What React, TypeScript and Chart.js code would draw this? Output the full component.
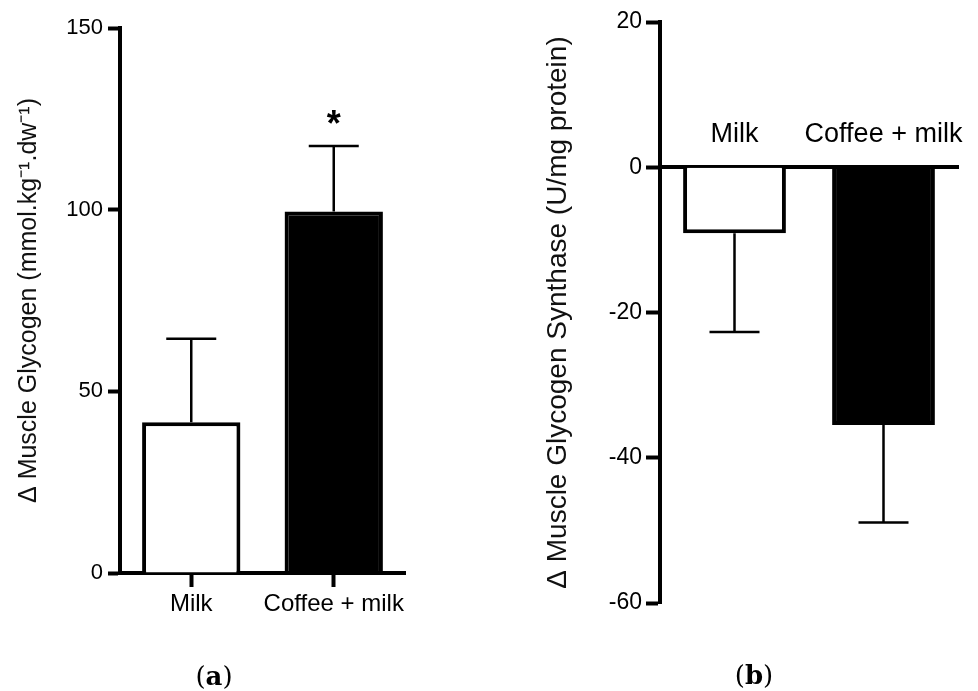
import React, { useEffect, useRef } from "react";
import { Chart, registerables } from "chart.js";

Chart.register(...registerables);

// ---------- data ----------
const categories = ["Milk", "Coffee + milk"];

const glycogenMeans = [41.5, 99.5];
const glycogenSEM = [23, 18];
const glycogenMarks = ["", "*"];
const glycogenTicks = [0, 50, 100, 150];
const glycogenTitle = "Δ Muscle Glycogen (mmol.kg⁻¹.dw⁻¹)";

const synthaseMeans = [-9.1, -35.5];
const synthaseSEM = [13.6, 13.4];
const synthaseMarks = ["", ""];
const synthaseTicks = [-60, -40, -20, 0, 20];
const synthaseTitle = "Δ Muscle Glycogen Synthase (U/mg protein)";

const barFills = ["#ffffff", "#000000"];
const panelCaptions = ["a", "b"];

const FONT = "'Liberation Sans', Arial, Helvetica, sans-serif";

// ---------- error bar plugin ----------
const errorBarPlugin = {
  id: "errorBars",
  afterDatasetsDraw(chart: any, _args: any, opts: any) {
    const { ctx } = chart;
    const yScale = chart.scales.y;
    const meta = chart.getDatasetMeta(0);
    const ds: any = chart.data.datasets[0];
    ctx.save();
    ctx.strokeStyle = "#000";
    ctx.lineWidth = opts.lineWidth ?? 2.5;
    meta.data.forEach((bar: any, i: number) => {
      const v = ds.data[i];
      const e = ds.errors[i];
      const end = v >= 0 ? v + e : v - e;
      const y0 = yScale.getPixelForValue(v);
      const y1 = yScale.getPixelForValue(end);
      const half = (opts.capWidth ?? 50) / 2;
      ctx.beginPath();
      ctx.moveTo(bar.x, y0);
      ctx.lineTo(bar.x, y1);
      ctx.moveTo(bar.x - half, y1);
      ctx.lineTo(bar.x + half, y1);
      ctx.stroke();
      const mark = ds.marks ? ds.marks[i] : "";
      if (mark) {
        ctx.fillStyle = "#000";
        ctx.font = opts.markFont;
        ctx.textAlign = "center";
        ctx.textBaseline = "alphabetic";
        const m = ctx.measureText(mark);
        const mid = (m.actualBoundingBoxAscent - m.actualBoundingBoxDescent) / 2;
        const centerY = y1 - (opts.markOffset ?? 28);
        ctx.fillText(mark, bar.x, centerY + mid);
      }
    });
    ctx.restore();
  },
};

type PanelSpec = {
  means: number[];
  errors: number[];
  marks: string[];
  ticks: number[];
  title: string;
  padding: { left: number; top: number; right: number; bottom: number };
  yWidth: number;
  yTickFont: number;
  yTickLength: number;
  yTickPadding: number;
  titleFont: number;
  titlePad: number;
  xFont: number;
  xPadding: number;
  xTicks: boolean;
};

function buildConfig(p: PanelSpec): any {
  const tMin = p.ticks[0];
  const tMax = p.ticks[p.ticks.length - 1];
  const step = p.ticks[1] - p.ticks[0];
  return {
    type: "bar",
    data: {
      labels: categories,
      datasets: [
        {
          data: p.means,
          errors: p.errors,
          marks: p.marks,
          backgroundColor: barFills,
          borderColor: "#000",
          borderWidth: 4,
          barPercentage: 0.69,
          categoryPercentage: 1,
        },
      ],
    },
    plugins: [errorBarPlugin],
    options: {
      animation: false,
      responsive: true,
      maintainAspectRatio: false,
      layout: { padding: p.padding },
      plugins: {
        legend: { display: false },
        tooltip: { enabled: false },
        errorBars: {
          lineWidth: 2.5,
          capWidth: 50,
          markFont: `bold 36px ${FONT}`,
          markOffset: 29,
        },
      },
      scales: {
        x: {
          position: { y: 0 },
          offset: true,
          grid: {
            display: p.xTicks,
            offset: false,
            drawOnChartArea: false,
            drawTicks: p.xTicks,
            tickLength: 12,
            tickWidth: 4,
            tickColor: "#000",
            color: "#000",
          },
          border: { display: true, width: 4, color: "#000" },
          ticks: {
            color: "#000",
            font: { family: FONT, size: p.xFont },
            padding: p.xPadding,
            autoSkip: false,
            maxRotation: 0,
            minRotation: 0,
          },
        },
        y: {
          position: "left",
          min: tMin,
          max: tMax,
          afterFit: (s: any) => {
            s.width = p.yWidth;
          },
          afterBuildTicks: (s: any) => {
            s.ticks = p.ticks.map((v) => ({ value: v }));
          },
          ticks: {
            stepSize: step,
            color: "#000",
            font: { family: FONT, size: p.yTickFont },
            padding: p.yTickPadding,
          },
          grid: {
            display: true,
            drawOnChartArea: false,
            drawTicks: true,
            tickLength: p.yTickLength,
            tickWidth: 4,
            tickColor: "#000",
            color: "#000",
          },
          border: { display: true, width: 4, color: "#000" },
          title: {
            display: true,
            text: p.title,
            color: "#111",
            font: { family: FONT, size: p.titleFont },
            padding: { top: p.titlePad, bottom: 0 },
          },
        },
      },
    },
  };
}

function Panel({ spec, left, width }: { spec: PanelSpec; left: number; width: number }) {
  const ref = useRef<HTMLCanvasElement | null>(null);
  useEffect(() => {
    if (!ref.current) return;
    const chart = new Chart(ref.current, buildConfig(spec));
    return () => chart.destroy();
  }, [spec]);
  return (
    <div style={{ position: "absolute", left, top: 0, width, height: 691 }}>
      <canvas ref={ref} />
    </div>
  );
}

const leftSpec: PanelSpec = {
  means: glycogenMeans,
  errors: glycogenSEM,
  marks: glycogenMarks,
  ticks: glycogenTicks,
  title: glycogenTitle,
  padding: { left: 0, top: 28, right: 75, bottom: 118 },
  yWidth: 120,
  yTickFont: 22,
  yTickLength: 12,
  yTickPadding: 5,
  titleFont: 25,
  titlePad: 14,
  xFont: 24,
  xPadding: 5,
  xTicks: true,
};

const rightSpec: PanelSpec = {
  means: synthaseMeans,
  errors: synthaseSEM,
  marks: synthaseMarks,
  ticks: synthaseTicks,
  title: synthaseTitle,
  padding: { left: 0, top: 22, right: 20, bottom: 88 },
  yWidth: 170,
  yTickFont: 23,
  yTickLength: 14,
  yTickPadding: 4,
  titleFont: 28,
  titlePad: 51,
  xFont: 27,
  xPadding: -49,
  xTicks: false,
};

function Caption({ letter, cx, cy }: { letter: string; cx: number; cy: number }) {
  return (
    <div
      style={{
        position: "absolute",
        left: cx - 60,
        top: cy - 14,
        width: 120,
        textAlign: "center",
        fontFamily: "'DejaVu Serif', 'Liberation Serif', serif",
        fontSize: 26,
        lineHeight: "28px",
        color: "#000",
      }}
    >
      (<b>{letter}</b>)
    </div>
  );
}

export default function App() {
  return (
    <div
      style={{
        position: "absolute",
        left: 0,
        top: 0,
        width: 978,
        height: 691,
        background: "#fff",
        overflow: "hidden",
      }}
    >
      <Panel spec={leftSpec} left={0} width={480} />
      <Panel spec={rightSpec} left={490} width={488} />
      <Caption letter={panelCaptions[0]} cx={214} cy={676} />
      <Caption letter={panelCaptions[1]} cx={754} cy={675} />
    </div>
  );
}
